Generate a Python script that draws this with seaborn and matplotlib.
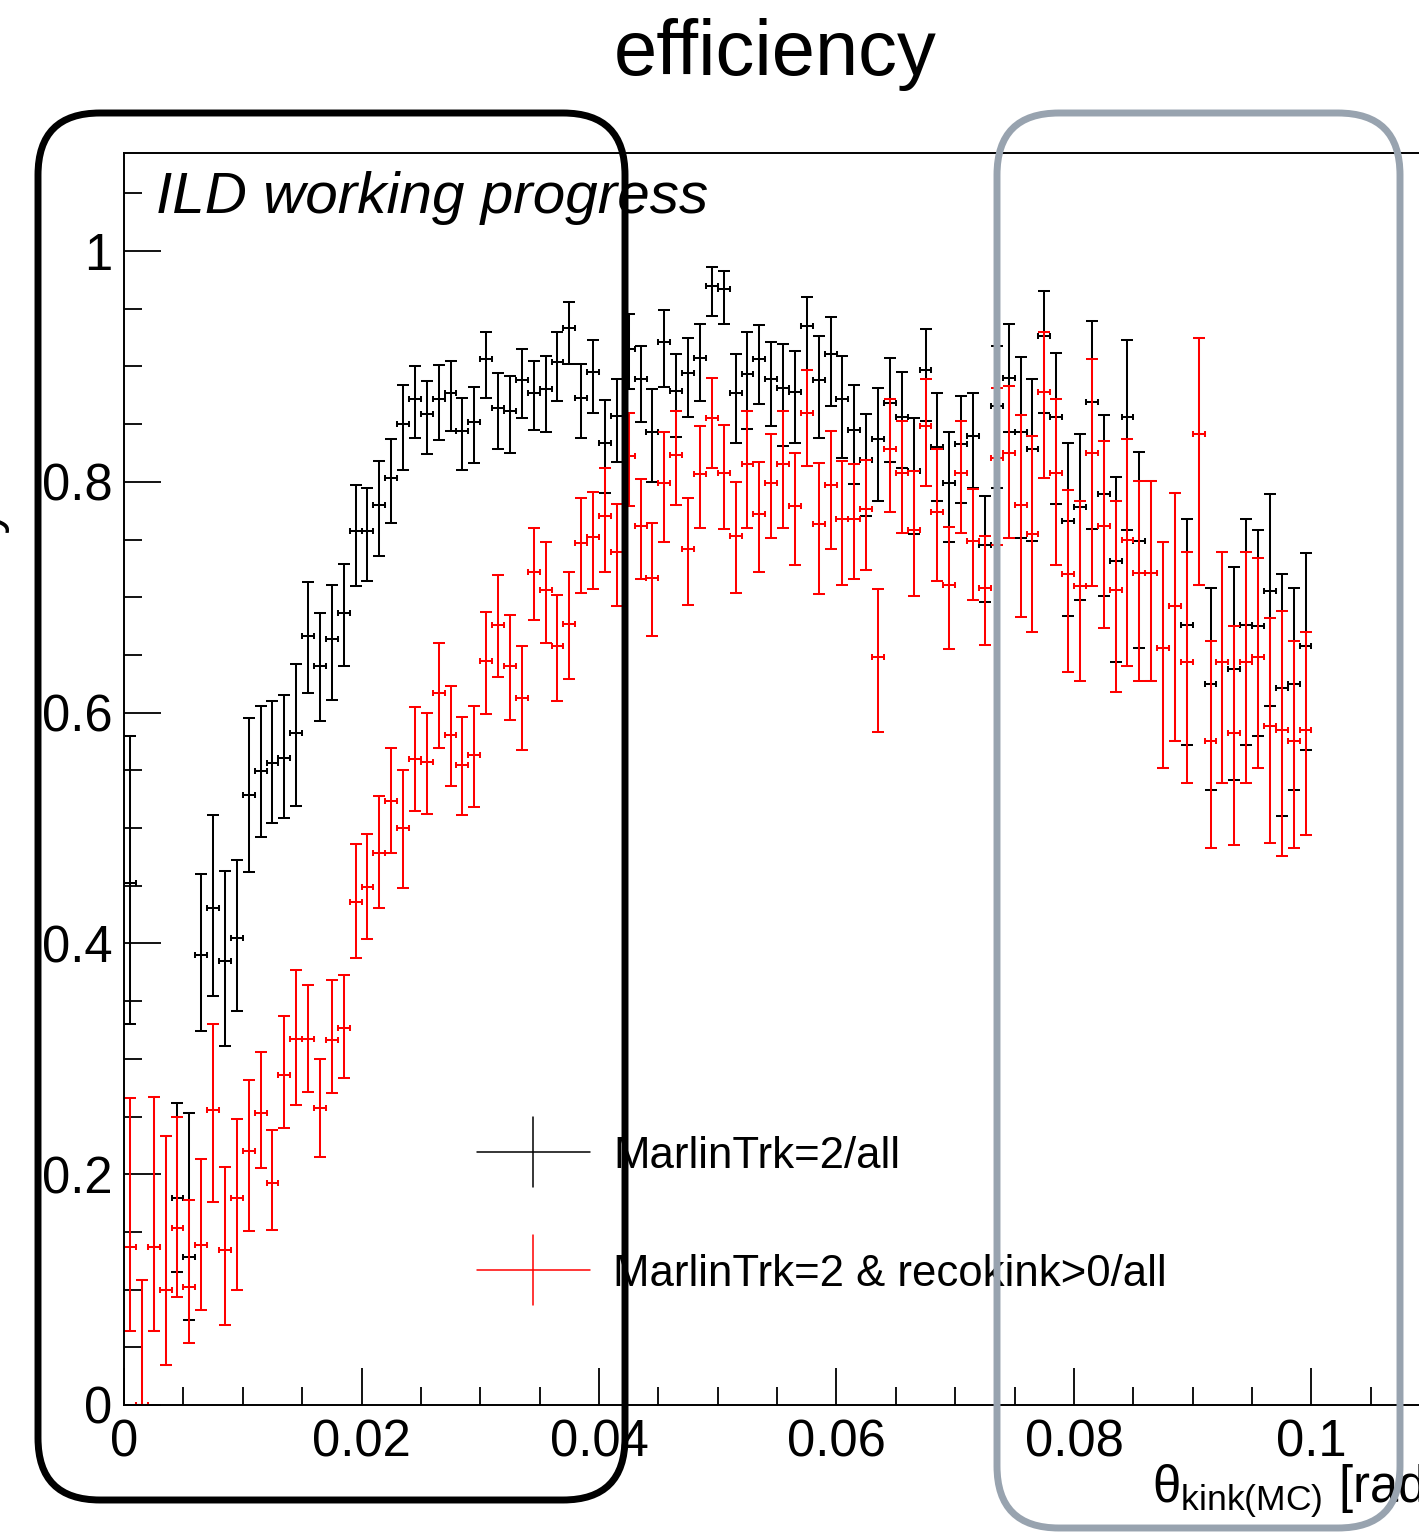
import numpy as np
import matplotlib
matplotlib.use("Agg")
import matplotlib.pyplot as plt
import seaborn as sns
from matplotlib.patches import FancyBboxPatch
from matplotlib.lines import Line2D
from matplotlib.transforms import IdentityTransform
from matplotlib.ticker import FixedLocator

# ---------------- data ----------------
bin_width = 0.001
bin_centers = np.arange(100) * bin_width + bin_width / 2

# MarlinTrk=2/all : efficiency, upper edge, lower edge
eff_all = [0.452, 0.000, 0.137, 0.100, 0.179, 0.128, 0.390, 0.431, 0.385, 0.405,
           0.529, 0.549, 0.556, 0.561, 0.582, 0.666, 0.640, 0.664, 0.686, 0.757,
           0.757, 0.780, 0.803, 0.850, 0.872, 0.859, 0.872, 0.877, 0.844, 0.852,
           0.906, 0.864, 0.861, 0.888, 0.877, 0.880, 0.904, 0.933, 0.873, 0.895,
           0.834, 0.857, 0.915, 0.889, 0.843, 0.921, 0.879, 0.894, 0.907, 0.970,
           0.967, 0.877, 0.893, 0.906, 0.889, 0.881, 0.878, 0.935, 0.888, 0.911,
           0.872, 0.845, 0.819, 0.837, 0.868, 0.856, 0.809, 0.897, 0.830, 0.799,
           0.833, 0.840, 0.745, 0.866, 0.890, 0.843, 0.828, 0.926, 0.856, 0.766,
           0.778, 0.869, 0.789, 0.731, 0.856, 0.749, 0.721, 0.656, 0.692, 0.676,
           0.841, 0.625, 0.644, 0.638, 0.676, 0.675, 0.705, 0.621, 0.625, 0.658]
hi_all = [0.580, 0.108, 0.267, 0.233, 0.262, 0.253, 0.460, 0.511, 0.463, 0.472,
          0.595, 0.606, 0.610, 0.615, 0.642, 0.713, 0.686, 0.711, 0.729, 0.797,
          0.795, 0.818, 0.837, 0.884, 0.900, 0.887, 0.901, 0.905, 0.873, 0.882,
          0.930, 0.894, 0.892, 0.915, 0.905, 0.909, 0.930, 0.956, 0.902, 0.923,
          0.871, 0.889, 0.945, 0.918, 0.880, 0.949, 0.911, 0.925, 0.937, 0.986,
          0.983, 0.911, 0.930, 0.936, 0.921, 0.919, 0.913, 0.960, 0.926, 0.943,
          0.909, 0.884, 0.859, 0.881, 0.907, 0.895, 0.855, 0.932, 0.877, 0.843,
          0.874, 0.877, 0.788, 0.918, 0.937, 0.908, 0.889, 0.965, 0.912, 0.834,
          0.841, 0.939, 0.858, 0.804, 0.923, 0.826, 0.801, 0.748, 0.790, 0.768,
          0.925, 0.708, 0.739, 0.726, 0.768, 0.758, 0.789, 0.720, 0.708, 0.738]
lo_all = [0.330, 0.000, 0.064, 0.035, 0.115, 0.074, 0.324, 0.354, 0.311, 0.341,
          0.462, 0.492, 0.504, 0.509, 0.519, 0.617, 0.593, 0.611, 0.640, 0.710,
          0.714, 0.736, 0.764, 0.810, 0.838, 0.824, 0.836, 0.844, 0.810, 0.816,
          0.873, 0.828, 0.825, 0.855, 0.845, 0.843, 0.870, 0.902, 0.838, 0.860,
          0.790, 0.817, 0.880, 0.852, 0.800, 0.882, 0.839, 0.856, 0.870, 0.944,
          0.937, 0.834, 0.846, 0.867, 0.848, 0.831, 0.834, 0.897, 0.838, 0.866,
          0.821, 0.798, 0.770, 0.783, 0.817, 0.812, 0.755, 0.853, 0.783, 0.748,
          0.782, 0.795, 0.696, 0.795, 0.843, 0.751, 0.749, 0.860, 0.781, 0.684,
          0.698, 0.759, 0.701, 0.644, 0.758, 0.656, 0.627, 0.552, 0.575, 0.572,
          0.711, 0.533, 0.539, 0.542, 0.572, 0.580, 0.606, 0.510, 0.533, 0.568]

# MarlinTrk=2 & recokink>0/all
eff_kink = [0.137, 0.000, 0.137, 0.100, 0.153, 0.102, 0.139, 0.256, 0.134, 0.179,
            0.220, 0.253, 0.192, 0.286, 0.317, 0.317, 0.257, 0.316, 0.327, 0.436,
            0.449, 0.478, 0.523, 0.500, 0.560, 0.557, 0.617, 0.581, 0.555, 0.563,
            0.645, 0.676, 0.640, 0.613, 0.722, 0.706, 0.658, 0.677, 0.747, 0.752,
            0.770, 0.739, 0.822, 0.762, 0.717, 0.799, 0.823, 0.742, 0.807, 0.855,
            0.808, 0.753, 0.815, 0.772, 0.799, 0.815, 0.779, 0.860, 0.763, 0.797,
            0.768, 0.768, 0.776, 0.648, 0.828, 0.808, 0.758, 0.848, 0.774, 0.711,
            0.808, 0.749, 0.708, 0.821, 0.825, 0.780, 0.755, 0.878, 0.808, 0.720,
            0.710, 0.825, 0.762, 0.706, 0.750, 0.721, 0.721, 0.656, 0.692, 0.644,
            0.841, 0.575, 0.644, 0.582, 0.644, 0.648, 0.588, 0.585, 0.575, 0.585]
hi_kink = [0.266, 0.108, 0.267, 0.233, 0.250, 0.178, 0.213, 0.330, 0.206, 0.248,
           0.282, 0.306, 0.238, 0.337, 0.377, 0.364, 0.300, 0.368, 0.373, 0.486,
           0.495, 0.528, 0.569, 0.550, 0.605, 0.600, 0.660, 0.623, 0.596, 0.606,
           0.687, 0.719, 0.685, 0.658, 0.760, 0.748, 0.702, 0.722, 0.786, 0.791,
           0.812, 0.781, 0.860, 0.802, 0.764, 0.843, 0.861, 0.786, 0.848, 0.890,
           0.849, 0.800, 0.861, 0.817, 0.841, 0.861, 0.825, 0.897, 0.816, 0.844,
           0.818, 0.815, 0.819, 0.707, 0.872, 0.853, 0.809, 0.889, 0.828, 0.761,
           0.853, 0.794, 0.753, 0.881, 0.883, 0.858, 0.840, 0.930, 0.872, 0.793,
           0.783, 0.906, 0.835, 0.783, 0.837, 0.801, 0.801, 0.748, 0.790, 0.739,
           0.925, 0.662, 0.739, 0.675, 0.739, 0.734, 0.682, 0.688, 0.662, 0.670]
lo_kink = [0.064, 0.000, 0.064, 0.035, 0.094, 0.054, 0.082, 0.176, 0.069, 0.100,
           0.151, 0.205, 0.152, 0.240, 0.260, 0.271, 0.215, 0.270, 0.283, 0.387,
           0.404, 0.431, 0.478, 0.448, 0.515, 0.512, 0.569, 0.536, 0.511, 0.518,
           0.599, 0.631, 0.594, 0.568, 0.680, 0.660, 0.610, 0.629, 0.704, 0.707,
           0.722, 0.692, 0.779, 0.716, 0.666, 0.748, 0.780, 0.693, 0.760, 0.812,
           0.759, 0.704, 0.760, 0.722, 0.751, 0.760, 0.728, 0.814, 0.703, 0.742,
           0.711, 0.716, 0.724, 0.583, 0.774, 0.756, 0.701, 0.796, 0.714, 0.655,
           0.756, 0.698, 0.659, 0.745, 0.751, 0.683, 0.670, 0.803, 0.728, 0.635,
           0.627, 0.710, 0.673, 0.618, 0.640, 0.627, 0.627, 0.552, 0.575, 0.539,
           0.711, 0.483, 0.539, 0.485, 0.539, 0.552, 0.487, 0.476, 0.483, 0.494]

series = [
    ("MarlinTrk=2/all", eff_all, hi_all, lo_all, "black"),
    ("MarlinTrk=2 & recokink>0/all", eff_kink, hi_kink, lo_kink, "#ff0000"),
]

y_ticks = [0, 0.2, 0.4, 0.6, 0.8, 1.0]
y_ticklabels = ["0", "0.2", "0.4", "0.6", "0.8", "1"]
x_ticks = [0, 0.02, 0.04, 0.06, 0.08, 0.1]
x_ticklabels = ["0", "0.02", "0.04", "0.06", "0.08", "0.1"]

# ---------------- style ----------------
sns.set_theme(style="white")
plt.rcParams["font.family"] = ["Liberation Sans", "DejaVu Sans"]
plt.rcParams["mathtext.fontset"] = "custom"
plt.rcParams["mathtext.rm"] = "Liberation Sans"
plt.rcParams["mathtext.it"] = "Liberation Sans:italic"
plt.rcParams["text.color"] = "black"
plt.rcParams["axes.labelcolor"] = "black"
plt.rcParams["xtick.color"] = "black"
plt.rcParams["ytick.color"] = "black"

W, H = 1419, 1533
fig = plt.figure(figsize=(W / 100, H / 100), dpi=100)
fig.patch.set_facecolor("white")


def fx(px):
    return px / W


def fy(py):
    return 1 - py / H


# axes: x=0 at px 124, 0.01 -> 118.75 px; y=0 at px 1405, 1 -> 1154 px
x_max, y_max = 0.115, 1.085
ax = fig.add_axes([fx(124), fy(1405), x_max * 11875 / W, y_max * 1154 / H])
ax.set_facecolor("white")

for label, eff, hi, lo, color in series:
    eff = np.array(eff)
    yerr = [eff - np.array(lo), np.array(hi) - eff]
    ax.errorbar(bin_centers, eff, yerr=yerr, fmt="none", ecolor=color,
                elinewidth=1.45, capsize=4.0, capthick=1.45)
    ax.errorbar(bin_centers, eff, xerr=bin_width / 2, fmt="none", ecolor=color,
                elinewidth=1.45, capsize=2.4, capthick=1.45)

ax.set_xlim(0, x_max)
ax.set_ylim(0, y_max)
ax.xaxis.set_major_locator(FixedLocator(x_ticks))
ax.xaxis.set_minor_locator(FixedLocator(np.arange(0, 0.1151, 0.005)))
ax.yaxis.set_major_locator(FixedLocator(y_ticks))
ax.yaxis.set_minor_locator(FixedLocator(np.arange(0, 1.08, 0.05)))
ax.set_xticklabels(x_ticklabels)
ax.set_yticklabels(y_ticklabels)
ax.tick_params(which="both", left=True, bottom=True, top=False, right=False,
               direction="in", color="black", width=1.3)
ax.tick_params(which="major", length=26.5, labelsize=36.5, labelcolor="black")
ax.tick_params(which="minor", length=13)
ax.tick_params(axis="y", which="major", pad=8.5)
ax.tick_params(axis="x", which="major", pad=10)
for side in ["left", "bottom", "top", "right"]:
    ax.spines[side].set_visible(True)
    ax.spines[side].set_color("black")
    ax.spines[side].set_linewidth(1.4)
ax.grid(False)

# ---------------- texts ----------------
fig.text(fx(775), fy(75), "efficiency", ha="center", va="baseline", fontsize=56)
fig.text(fx(156), fy(213), "ILD working progress", ha="left", va="baseline",
         fontsize=42, style="italic")
fig.text(fx(1152), fy(1502), r"$\mathrm{\theta}_{\mathrm{kink(MC)}}$ [rad]",
         ha="left", va="baseline", fontsize=36.5)
# y-axis title, almost entirely outside the cropped picture (only a descender shows)
fig.text(fx(-3), fy(505), "efficiency", rotation=90, rotation_mode="anchor",
         ha="right", va="baseline", fontsize=36.5)

# legend drawn by hand, ROOT style crosses
legend_rows = [(1152, "black", series[0][0]), (1270, "#ff0000", series[1][0])]
for ypx, color, text in legend_rows:
    fig.add_artist(Line2D([fx(477), fx(590)], [fy(ypx), fy(ypx)], color=color,
                          lw=1.1, transform=fig.transFigure, zorder=5))
    fig.add_artist(Line2D([fx(533), fx(533)], [fy(ypx - 35), fy(ypx + 35)],
                          color=color, lw=1.1, transform=fig.transFigure, zorder=5))
    fig.text(fx(613), fy(ypx + 16), text, ha="left", va="baseline", fontsize=31.5)

# rounded highlight boxes (pixel coordinates)
boxes = [((38, 113, 625, 1500), "black"), ((997, 113, 1400, 1528), "#98a3af")]
for (x0, y0, x1, y1), color in boxes:
    patch = FancyBboxPatch((x0, H - y1), x1 - x0, y1 - y0,
                           boxstyle="round,pad=0,rounding_size=62",
                           transform=IdentityTransform(), fill=False,
                           edgecolor=color, linewidth=5.0, zorder=10)
    fig.add_artist(patch)

fig.savefig("out.png", dpi=100)
